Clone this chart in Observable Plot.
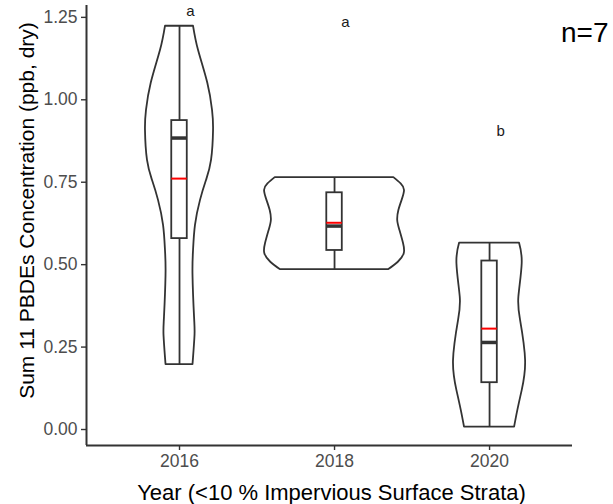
<!DOCTYPE html>
<html><head><meta charset="utf-8">
<script src="https://cdn.jsdelivr.net/npm/d3@7"></script>
<script src="https://cdn.jsdelivr.net/npm/@observablehq/plot@0.6"></script>
<style>html,body{margin:0;padding:0;background:#fff} svg{display:block}</style>
</head><body><div id="chart"></div>
<script>
// ---- data ----
const years = [2016, 2018, 2020];
const xTicks = [2016, 2018, 2020];
const yTicks = [0, 0.25, 0.5, 0.75, 1.0, 1.25];

// violin outlines: concentration (ppb) and density half-width (in year units)
const violinConc2016 = [1.223, 1.150, 1.050, 0.968, 0.907, 0.816, 0.755, 0.695, 0.619, 0.543, 0.467, 0.340, 0.285, 0.218, 0.197];
const violinWidth2016 = [0.181, 0.245, 0.365, 0.426, 0.439, 0.413, 0.348, 0.271, 0.206, 0.181, 0.174, 0.194, 0.200, 0.181, 0.174];
const violinConc2018 = [0.764, 0.745, 0.725, 0.695, 0.664, 0.634, 0.604, 0.564, 0.534, 0.508, 0.485];
const violinWidth2018 = [0.765, 0.859, 0.903, 0.872, 0.830, 0.815, 0.843, 0.890, 0.900, 0.826, 0.701];
const violinConc2020 = [0.565, 0.503, 0.401, 0.331, 0.209, 0.118, 0.058, 0.007];
const violinWidth2020 = [0.387, 0.421, 0.378, 0.400, 0.465, 0.421, 0.365, 0.323];

// box summaries
const boxMin    = [0.197, 0.485, 0.007];
const boxQ1     = [0.579, 0.543, 0.142];
const boxMedian = [0.884, 0.617, 0.264];
const boxQ3     = [0.937, 0.718, 0.511];
const boxMax    = [1.223, 0.764, 0.565];
const boxMean   = [0.761, 0.627, 0.306];

// significance letters
const groupLetters = ["a", "a", "b"];
const letterConc = [1.270, 1.235, 0.905];

const sampleNote = "n=7";
const xTitle = "Year (<10 % Impervious Surface Strata)";
const yTitle = "Sum 11 PBDEs Concentration (ppb, dry)";

// ---- build tables ----
const violinConcs = [violinConc2016, violinConc2018, violinConc2020];
const violinWidths = [violinWidth2016, violinWidth2018, violinWidth2020];
const violins = years.flatMap((yr, i) => violinConcs[i].map((c, j) => ({year: yr, conc: c, hw: violinWidths[i][j]})));
const boxes = years.map((yr, i) => ({year: yr, min: boxMin[i], q1: boxQ1[i], median: boxMedian[i], q3: boxQ3[i], max: boxMax[i], mean: boxMean[i]}));
const letters = years.map((yr, i) => ({year: yr, conc: letterConc[i], label: groupLetters[i]}));

const xDomain = [2014.8, 2021.07];
const yDomain = [-0.0485, 1.286];
const boxHalf = 0.1;
const ink = "#333333";

const chart = Plot.plot({
  width: 613, height: 504,
  marginLeft: 86, marginRight: 41, marginTop: 5, marginBottom: 59,
  style: {fontFamily: "'Liberation Sans', Arial, sans-serif", background: "#fff", overflow: "visible"},
  x: {domain: xDomain},
  y: {domain: yDomain},
  marks: [
    Plot.axisX({ticks: xTicks, tickFormat: "d", tickSize: 5, tickPadding: 4, fontSize: 17.5, stroke: ink, strokeWidth: 1.4, fill: "#4d4d4d", label: null}),
    Plot.axisY({ticks: yTicks, tickFormat: ".2f", tickSize: 5, tickPadding: 4, fontSize: 17.5, stroke: ink, strokeWidth: 1.4, fill: "#4d4d4d", label: null}),
    Plot.ruleX([xDomain[0]], {stroke: ink, strokeWidth: 2}),
    Plot.ruleY([yDomain[0]], {stroke: ink, strokeWidth: 2}),
    Plot.areaX(violins, {y: "conc", x1: d => d.year - d.hw, x2: d => d.year + d.hw, z: "year", fill: "none", stroke: ink, strokeWidth: 1.8, curve: "natural"}),
    Plot.ruleX(boxes, {x: "year", y1: "min", y2: "q1", stroke: ink, strokeWidth: 1.8}),
    Plot.ruleX(boxes, {x: "year", y1: "q3", y2: "max", stroke: ink, strokeWidth: 1.8}),
    Plot.rect(boxes, {x1: d => d.year - boxHalf, x2: d => d.year + boxHalf, y1: "q1", y2: "q3", fill: "white", stroke: ink, strokeWidth: 1.8}),
    Plot.ruleY(boxes, {y: "median", x1: d => d.year - boxHalf, x2: d => d.year + boxHalf, stroke: ink, strokeWidth: 3.5}),
    Plot.ruleY(boxes, {y: "mean", x1: d => d.year - boxHalf, x2: d => d.year + boxHalf, stroke: "red", strokeWidth: 2}),
    Plot.text(letters, {x: "year", y: "conc", text: "label", dx: 11, fontSize: 15, fill: "#1a1a1a"}),
    Plot.text([sampleNote], {frameAnchor: "top-right", textAnchor: "end", lineAnchor: "middle", dx: 36, dy: 28, fontSize: 28, fill: "#000"}),
    Plot.text([xTitle], {frameAnchor: "bottom", lineAnchor: "middle", dx: 2, dy: 47, fontSize: 22, fill: "#000"}),
    Plot.text([yTitle], {frameAnchor: "left", textAnchor: "middle", lineAnchor: "middle", rotate: -90, dx: -59, dy: -15, fontSize: 21, fill: "#000"})
  ]
});
document.getElementById("chart").appendChild(chart);
</script>
</body></html>
